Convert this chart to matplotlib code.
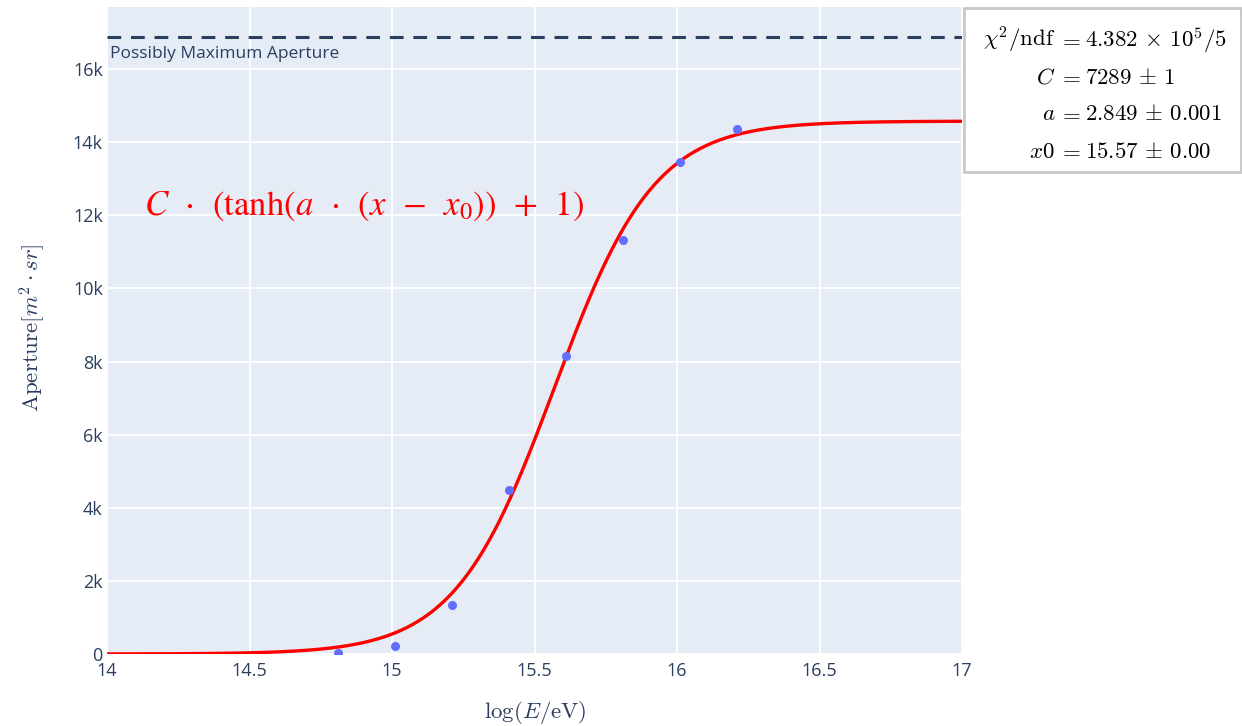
import numpy as np
import matplotlib
matplotlib.use("Agg")
import matplotlib.pyplot as plt
from matplotlib.patches import Rectangle

# ---- data ----
log_e = [14.81, 15.01, 15.21, 15.41, 15.61, 15.81, 16.01, 16.21]
aperture = [30, 230, 1330, 4490, 8160, 11320, 13470, 14350]

# fit parameters (shown in stats box)
fit_C = 7289
fit_a = 2.849
fit_x0 = 15.57
max_aperture = 16870

x_ticks = [14, 14.5, 15, 15.5, 16, 16.5, 17]
x_tick_labels = ["14", "14.5", "15", "15.5", "16", "16.5", "17"]
y_ticks = [0, 2000, 4000, 6000, 8000, 10000, 12000, 14000, 16000]
y_tick_labels = ["0", "2k", "4k", "6k", "8k", "10k", "12k", "14k", "16k"]

stats_left = [r"$\chi^2/\mathrm{ndf}$", r"$C$", r"$a$", r"$x0$"]
stats_right = [r"$4.382\,\times\,10^5/5$", r"$7289\,\pm\,1$", r"$2.849\,\pm\,0.001$",
               r"$15.57\,\pm\,0.00$"]

W, H = 1242, 726
fig = plt.figure(figsize=(W / 100, H / 100), dpi=100)
plt.rcParams['mathtext.fontset'] = 'cm'

def fx(px):
    return px / W

def fy(py):
    return 1 - py / H

ax_l, ax_r, ax_t, ax_b = 107, 962, 7, 654
ax = fig.add_axes([fx(ax_l), fy(ax_b), (ax_r - ax_l) / W, (ax_b - ax_t) / H])
ax.set_facecolor("#e5ecf6")
for s in ax.spines.values():
    s.set_visible(False)

ax.set_xlim(14, 17)
ax.set_ylim(0, 17700)
ax.set_xticks(x_ticks)
ax.set_xticklabels(x_tick_labels)
ax.set_yticks(y_ticks)
ax.set_yticklabels(y_tick_labels)
ax.grid(True, color="white", linewidth=1.3)
ax.set_axisbelow(True)
tick_color = "#2a3f5f"
ax.tick_params(axis="both", length=0, labelsize=13, labelcolor=tick_color)
ax.tick_params(axis="x", pad=6)
ax.tick_params(axis="y", pad=3)
for lab in ax.get_xticklabels() + ax.get_yticklabels():
    lab.set_fontfamily("Open Sans")

# fit curve
xs = np.linspace(14, 17, 600)
ys = fit_C * (np.tanh(fit_a * (xs - fit_x0)) + 1)
ax.plot(xs, ys, color="red", linewidth=2.4, zorder=3)

# data points
ax.plot(log_e, aperture, linestyle="none", marker="o", markersize=6.5,
        color="#636efa", markeredgewidth=0, zorder=4)

# max aperture line
ax.axhline(max_aperture, color="#2a3f5f", linewidth=2.2, linestyle=(0, (4.5, 3.2)), zorder=3)
ax.text(14.012, max_aperture - 230, "Possibly Maximum Aperture", fontsize=12.5,
        color=tick_color, family="Open Sans", ha="left", va="top")

# formula
ax.text(14.13, 12250,
        r"$C\ \,\cdot\ \,(\mathrm{tanh}\left(a\ \,\cdot\ \,(x\ \,-\ \,x_0)\right)\ \,+\ \,1)$",
        color="red", fontsize=25, math_fontfamily="stix", ha="left", va="center")

# axis titles
fig.text(fx(535), fy(713), r"$\log(E/\mathrm{eV})$", fontsize=16.5, color="#2a3f5f",
         ha="center", va="center")
fig.text(fx(33), fy(328), r"$\mathrm{Aperture}[m^2\cdot sr]$", fontsize=16.5, color="#2a3f5f",
         ha="center", va="center", rotation=90)

# stats box
box = Rectangle((fx(964), fy(172)), (1241 - 964) / W, (172 - 8) / H, transform=fig.transFigure,
                facecolor="white", edgecolor="#c8c8c8", linewidth=2, zorder=5)
fig.patches.append(box)
line_y = [40, 77, 114, 151]
for yy, lt, rt in zip(line_y, stats_left, stats_right):
    fig.text(fx(1055), fy(yy), lt, fontsize=16.5, ha="right", va="center", zorder=6)
    fig.text(fx(1069), fy(yy), r"$=$", fontsize=16.5, ha="center", va="center", zorder=6)
    fig.text(fx(1085), fy(yy), rt, fontsize=16.5, ha="left", va="center", zorder=6)

fig.savefig("out.png", dpi=100)
